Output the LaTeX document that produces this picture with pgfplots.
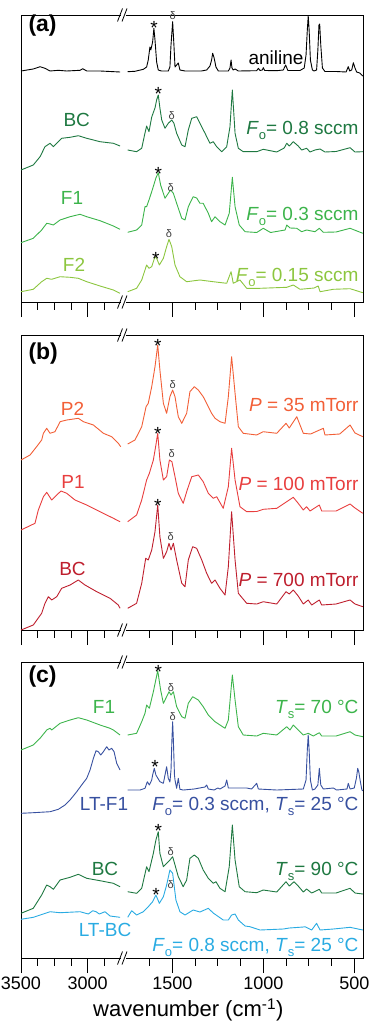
\documentclass[border=0pt]{standalone}
\usepackage{fontspec}
\setmainfont{Liberation Sans}
\usepackage{pgfplots}
\pgfplotsset{compat=1.18}
\definecolor{cAn}{RGB}{0,0,0}
\definecolor{cBC}{RGB}{30,120,65}
\definecolor{cF1}{RGB}{60,180,75}
\definecolor{cF2}{RGB}{140,198,63}
\definecolor{cP2}{RGB}{242,95,55}
\definecolor{cP1}{RGB}{232,62,62}
\definecolor{cBCr}{RGB}{190,30,45}
\definecolor{cLTF}{RGB}{55,80,160}
\definecolor{cLTB}{RGB}{41,171,226}
\newcommand{\lab}{\fontsize{19}{22}\selectfont}
\newcommand{\sub}[1]{\raisebox{-5pt}{\fontsize{13}{13}\selectfont #1}}
\newcommand{\ask}{\fontsize{19}{19}\selectfont *}
\newcommand{\dl}{\fontsize{11}{11}\selectfont δ}
\tikzset{as/.style={yshift=-4.5pt}}
\pgfplotsset{
  brk/.style={
    scale only axis, width=342pt,
    x coord trafo/.code={\pgfmathparse{##1>2200 ? 21+(3500-##1)*0.133333 : 172.3+(1500-##1)*0.182}},
    xmin=3500, xmax=452,
    y filter/.expression={-y},
    axis line style={line width=0.9pt},
    xtick={3500,3000,1500,1000,500},
    minor xtick={3375,3250,3125,2875,1625,1375,1250,1125,875,750,625},
    xtick pos=bottom, ytick=\empty,
    tick align=outside,
    major tick length=15pt, minor tick length=7.5pt,
    every tick/.style={black, line width=0.9pt},
    xticklabels={},
    unbounded coords=jump,
    every axis plot/.append style={line width=0.9pt, mark=none, line join=round},
    /pgf/number format/assume math mode=true,
    xticklabel style={font=\fontsize{18}{18}\selectfont},
  }
}
\begin{document}
\begin{tikzpicture}[x=1pt,y=1pt]
\useasboundingbox (0,0) rectangle (371,-1024);
% ---------------- panel (a)
\begin{axis}[brk, at={(21,-15)}, anchor=north west, height=287pt, ymin=-302, ymax=-15]
\addplot[cAn] coordinates {(3500,71)(3408,69)(3357,66.7)(3320,68.3)(3282,71)(3220,70.3)(3157,71)(3057,70.3)(3037,68.7)(3007,71)(2907,71)(2757,72)
(2200,nan)
(1745,71.7)(1705,71.3)(1659,69.3)(1641,67)(1632,60)(1623,47)(1618,50)(1608,42)(1601,28.3)(1595,40)(1586,62)(1577,70)(1560,71)(1522,71)(1513,67)(1507,45)(1498,21.7)(1491,45)(1485,67)(1476,65)(1467,63)(1458,70)(1430,71)(1340,71)(1311,70)(1293,66)(1284,60)(1278,53.3)(1270,58)(1260,67)(1247,71)(1192,71)(1183,68)(1177,60)(1172,68)(1165,70)(1155,69)(1137,71)(1036,70.7)(1027,68.3)(1018,70.5)(1005,70)(1000,67.7)(992,70.5)(926,70.7)(890,70)(877,65)(865,70.5)(798,70.5)(775,68)(765,55)(758,30)(753,16)(748,30)(741,60)(730,70)(721,71)(707,70)(700,50)(694,25)(690,24)(684,45)(675,68)(661,71.5)(600,71.5)(545,72)(533,66.7)(525,71)(514,70)(505,62.7)(496,68)(487,72)(470,73)(453,76)};
\addplot[cBC] coordinates {(3500,170)(3408,165)(3357,156.7)(3320,146.7)(3282,143.3)(3257,146.7)(3220,141.7)(3195,138.3)(3132,137.3)(3070,135.7)(3007,138.3)(2907,141.7)(2807,143.3)(2757,146)
(2200,nan)
(1745,150)(1696,151.7)(1668,148.3)(1650,133)(1641,126)(1628,131.7)(1613,117)(1595,108)(1586,100)(1577,95)(1568,108)(1558,120)(1540,128.3)(1522,123.3)(1503,120)(1491,123.3)(1476,133.3)(1448,145)(1430,146.7)(1412,130)(1393,118.3)(1366,116.7)(1348,123.3)(1320,133.3)(1293,143.3)(1275,141.7)(1256,146.7)(1228,151.7)(1201,146.7)(1183,126.7)(1170,90)(1155,133.3)(1137,148.3)(1110,151.7)(1036,151.7)(1000,149.3)(926,152)(885,148)(871,143.3)(857,146)(835,141.7)(808,146)(789,150)(762,148.3)(743,152)(716,150)(688,149)(661,152)(600,151.5)(523,147.7)(496,152)(453,151.7)};
\addplot[cF1] coordinates {(3500,242.7)(3408,238.3)(3345,230)(3307,223.3)(3282,224)(3257,225)(3207,220)(3132,216.7)(3057,214.3)(3007,216.7)(2907,220.7)(2807,226)(2757,229.3)
(2200,nan)
(1745,232.3)(1696,230)(1668,225)(1650,206.7)(1641,206.7)(1628,200)(1610,190)(1590,178)(1577,172.7)(1564,185)(1558,188.3)(1540,198.3)(1522,193.3)(1509,190)(1494,193.3)(1476,203.3)(1448,218.3)(1430,220)(1412,206.7)(1385,196.7)(1366,198)(1348,203.3)(1330,203.3)(1302,213.3)(1284,221.7)(1265,216.7)(1238,221.7)(1210,225)(1187,213.3)(1170,177.3)(1155,206.7)(1132,225)(1100,231.7)(1036,232.5)(1000,228.3)(960,232.5)(880,230)(871,225)(853,228)(816,228.3)(789,231.7)(762,230)(716,231.7)(692,228.3)(670,232.3)(600,232)(523,228.3)(453,233.3)};
\addplot[cF2] coordinates {(3500,291.7)(3408,289.3)(3345,281.7)(3307,278.3)(3270,279.3)(3207,276.7)(3132,277.3)(3070,278.3)(3007,281.7)(2907,286)(2807,290)(2757,293.3)
(2200,nan)
(1745,291.7)(1696,288.3)(1668,280)(1641,265)(1628,268.3)(1613,266.7)(1595,256.7)(1586,258.3)(1571,265)(1549,258.3)(1531,246.7)(1518,239.3)(1503,246.7)(1485,265)(1458,276.7)(1421,281.7)(1348,280)(1275,281.7)(1201,283.3)(1177,271.7)(1165,283.3)(1128,280)(1091,288.3)(1018,288.3)(871,287.3)(835,285)(798,289.3)(720,288)(698,286)(688,291.7)(615,289.3)(523,288.7)(453,292.7)};
\end{axis}
% ---------------- panel (b)
\begin{axis}[brk, at={(21,-335)}, anchor=north west, height=295pt, ymin=-630, ymax=-335]
\addplot[cP2] coordinates {(3500,460)(3432,455)(3383,446.7)(3345,440)(3332,433.3)(3307,428.3)(3282,433.3)(3245,431.7)(3207,421.7)(3157,420)(3070,418.3)(3032,421.7)(2957,425)(2882,433.3)(2820,436.7)(2770,443.3)(2752,446.7)
(2200,nan)
(1745,444)(1705,440)(1668,426.7)(1644,406.7)(1632,403.3)(1613,386.7)(1595,366.7)(1580,345)(1568,370)(1549,403.3)(1531,413.3)(1513,396.7)(1498,390)(1485,396.7)(1467,416.7)(1448,423.3)(1421,413.3)(1403,391.7)(1379,386.7)(1357,390)(1330,396.7)(1302,406.7)(1284,413.3)(1265,418.3)(1238,421.7)(1210,423.3)(1192,396.7)(1174,356.7)(1155,393.3)(1137,426.7)(1110,433.3)(1036,435)(1000,431.7)(926,433.3)(875,423.3)(857,428)(816,416.7)(798,425)(780,433.3)(740,434)(670,428.3)(661,435)(580,434)(523,425)(496,433)(453,436.7)};
\addplot[cP1] coordinates {(3500,530)(3395,523.3)(3370,510)(3332,496.7)(3307,492.3)(3270,500)(3232,495)(3200,491)(3157,493.3)(3095,500)(3007,505)(2907,511.7)(2807,518.3)(2757,521.7)
(2200,nan)
(1745,521.7)(1696,515)(1668,500)(1641,480)(1626,473.3)(1604,460)(1590,445)(1580,433.3)(1568,460)(1549,480)(1531,476.7)(1516,460)(1502,461.7)(1485,476.7)(1467,493.3)(1440,503.3)(1418,490)(1393,476.7)(1357,475)(1330,481.7)(1302,493.3)(1275,498.3)(1256,496.7)(1220,508.3)(1192,486.7)(1174,448.3)(1155,480)(1128,506.7)(1091,511.7)(1036,511.5)(1000,509.3)(926,508.3)(871,501.7)(835,497.3)(808,503.3)(780,510)(762,506.7)(743,511)(692,505)(679,511)(600,511)(523,504)(496,508)(453,513.3)};
\addplot[cBCr] coordinates {(3500,630)(3408,625)(3345,613.3)(3320,603.3)(3295,596.7)(3270,600)(3232,596.7)(3195,588.3)(3132,585)(3070,580)(3020,585)(2932,591.7)(2832,598.3)(2770,605)(2757,608.3)
(2200,nan)
(1745,608.3)(1696,603.3)(1668,583.3)(1646,558.3)(1632,560)(1613,550)(1595,531.7)(1580,505)(1568,536.7)(1549,558.3)(1531,551.7)(1518,543.3)(1507,550)(1494,543.3)(1476,560)(1448,583.3)(1430,586.7)(1412,560)(1388,546.7)(1366,548.3)(1338,560)(1311,573.3)(1284,583.3)(1265,580)(1238,588.3)(1210,595)(1192,566.7)(1174,511.7)(1155,560)(1137,593.3)(1091,603.3)(1036,604)(1000,601.7)(926,604)(875,591.7)(857,594)(835,590)(808,596)(780,604)(753,600)(734,605)(692,600)(679,605)(600,604)(523,600)(496,604)(453,606.7)};
\end{axis}
% ---------------- panel (c)
\begin{axis}[brk, at={(21,-662)}, anchor=north west, height=296pt, ymin=-958, ymax=-662,
  xticklabels={3500,3000,1500,1000,500}]
\addplot[cF1] coordinates {(3500,750)(3408,745)(3357,738.3)(3307,730)(3282,728.3)(3270,730)(3207,723.3)(3132,720)(3070,717.7)(3007,720)(2907,725)(2832,728.3)(2807,730)(2757,735)
(2200,nan)
(1745,735)(1696,733.3)(1668,721.7)(1650,713.3)(1641,705)(1626,708.3)(1604,691.7)(1580,670.7)(1564,690)(1549,703.3)(1531,696.7)(1518,691.7)(1507,695)(1494,691.7)(1476,706.7)(1448,716.7)(1430,718.3)(1412,703.3)(1388,696.7)(1357,700)(1330,706.7)(1302,715)(1275,720)(1265,721.7)(1238,725)(1210,728.3)(1192,720)(1170,675)(1155,700)(1137,726.7)(1110,735)(1036,736)(1000,733.3)(926,735)(871,726.7)(853,730)(835,725)(808,730)(780,735)(753,733.3)(725,736)(692,732.7)(679,736)(600,736)(523,731.7)(496,735)(453,736.7)};
\addplot[cLTF] coordinates {(3500,813.3)(3408,812.7)(3282,811.7)(3220,809.3)(3170,805)(3132,800)(3082,791.7)(3045,785)(3007,778.3)(2982,770)(2957,758.3)(2937,750.7)(2920,751.7)(2902,755)(2882,751.7)(2857,746.7)(2840,750)(2820,748.3)(2802,751.7)(2782,763.3)(2757,770)
(2200,nan)
(1745,790)(1677,790)(1650,788.3)(1637,781.7)(1626,785)(1613,780)(1608,775)(1599,768.3)(1590,775)(1568,781.7)(1549,783.3)(1540,775)(1531,766.7)(1522,778.3)(1513,782)(1507,770)(1502,740)(1498,721.7)(1494,740)(1488,775)(1485,780)(1476,788.3)(1467,778.3)(1458,789.3)(1440,790)(1380,789)(1320,787)(1311,785)(1302,789)(1270,790)(1250,788)(1238,789)(1210,786)(1201,780)(1192,788)(1137,788)(1091,788)(1064,789)(1036,783.3)(1027,789)(926,790)(780,789)(765,780)(758,750)(753,735)(748,750)(741,780)(730,790)(716,789)(700,785)(692,768.3)(684,785)(670,789)(615,788)(597,790)(540,789)(533,783.3)(523,789)(500,788)(488,778)(481,768.3)(475,772)(468,780)(458,790)(453,790.7)};
\addplot[cBC] coordinates {(3500,913.3)(3408,908.3)(3345,895)(3307,885)(3282,886.7)(3257,889.3)(3207,880)(3132,877.3)(3070,874.3)(3007,878.3)(2907,880.7)(2807,883.3)(2757,886.7)
(2200,nan)
(1745,891.7)(1696,893.3)(1668,888.3)(1641,866.7)(1628,871.7)(1604,853.3)(1590,840)(1577,831.7)(1568,853.3)(1549,866.7)(1531,863.3)(1513,860)(1498,856.7)(1485,865)(1467,876.7)(1440,886.7)(1421,880)(1403,858.3)(1379,855)(1357,858.3)(1330,870)(1302,878.3)(1275,883.3)(1260,881.7)(1238,888.3)(1210,891.7)(1187,866.7)(1170,825)(1155,860)(1132,886.7)(1100,891.7)(1036,892.7)(1000,890)(926,892)(875,881.7)(857,886)(831,881.7)(808,886)(780,892)(762,889)(734,893)(692,889.3)(679,893)(600,893)(523,888.3)(496,893)(453,894)};
\addplot[cLTB] coordinates {(3500,919.3)(3408,917.3)(3282,911.7)(3207,912.7)(3057,911.7)(2995,914)(2962,910.7)(2937,911.7)(2912,914)(2870,911.7)(2832,916)(2757,917.3)
(2200,nan)
(1745,917.3)(1723,910.7)(1696,915)(1659,911.7)(1632,906.7)(1608,901.7)(1590,895)(1571,903.3)(1549,896.7)(1531,885)(1513,870)(1498,873.3)(1480,900)(1458,911.7)(1430,915)(1385,910)(1348,912)(1302,908.3)(1275,913)(1220,920)(1192,920)(1174,915)(1155,914)(1137,920)(1100,926)(1073,926.7)(1018,930)(890,929)(857,928)(780,927)(771,926.7)(734,930)(707,923.3)(688,930)(615,929)(523,927.3)(453,930)};
\end{axis}
% ---------------- axis breaks
\foreach \yy in {15,302,335,630,662,958}{
  \fill[white] (120.5,-\yy+4) rectangle (125.5,-\yy-4);
  \draw[line width=0.8pt] (117.5,-\yy-6.5) -- (122.5,-\yy+6.5);
  \draw[line width=0.8pt] (122,-\yy-6.5) -- (127,-\yy+6.5);
}
% ---------------- panel letters
\node[anchor=west, font=\fontsize{23}{23}\selectfont\bfseries] at (25,-26) {(a)};
\node[anchor=west, font=\fontsize{23}{23}\selectfont\bfseries] at (25,-354) {(b)};
\node[anchor=west, font=\fontsize{23}{23}\selectfont\bfseries] at (25,-677) {(c)};
% ---------------- labels (a)
\node[anchor=base, cAn] at (276,-65) {\lab aniline};
\node[anchor=base, cBC] at (76.7,-126.7) {\lab BC};
\node[anchor=base east, cBC] at (362,-135) {\lab \textit{F}\sub{o}= 0.8 sccm};
\node[anchor=base, cF1] at (72,-205) {\lab F1};
\node[anchor=base east, cF1] at (362,-220.7) {\lab \textit{F}\sub{o}= 0.3 sccm};
\node[anchor=base, cF2] at (74,-271.7) {\lab F2};
\node[anchor=base east, cF2] at (362,-281.7) {\lab \textit{F}\sub{o}= 0.15 sccm};
\node[as] at (154,-23) {\ask};
\node[black!75] at (172.7,-15.5) {\dl};
\node[as] at (158.3,-89) {\ask};
\node[black!75] at (171.7,-115.5) {\dl};
\node[as] at (158.3,-169) {\ask};
\node[black!75] at (170.7,-187.5) {\dl};
\node[as] at (155.7,-254) {\ask};
\node[black!75] at (169,-234) {\dl};
% ---------------- labels (b)
\node[anchor=base, cP2] at (72.5,-415) {\lab P2};
\node[anchor=base east, cP2] at (362,-411.7) {\lab \textit{P} = 35 mTorr};
\node[anchor=base, cP1] at (73,-488.3) {\lab P1};
\node[anchor=base east, cP1] at (362,-490.7) {\lab \textit{P} = 100 mTorr};
\node[anchor=base, cBCr] at (72.5,-575) {\lab BC};
\node[anchor=base east, cBCr] at (362,-586.7) {\lab \textit{P} = 700 mTorr};
\node[as] at (157.7,-341) {\ask};
\node[black!75] at (172.7,-385) {\dl};
\node[as] at (157.7,-429) {\ask};
\node[black!75] at (171.7,-453.7) {\dl};
\node[as] at (157.7,-501) {\ask};
\node[black!75] at (170.7,-536.7) {\dl};
% ---------------- labels (c)
\node[anchor=base, cF1] at (104,-713.3) {\lab F1};
\node[anchor=base east, cF1] at (362,-713.3) {\lab \textit{T}\sub{s}= 70 °C};
\node[anchor=base, cLTF] at (104,-810) {\lab LT-F1};
\node[anchor=base east, cLTF] at (362,-810) {\lab \textit{F}\sub{o}= 0.3 sccm, \textit{T}\sub{s}= 25 °C};
\node[anchor=base, cBC] at (105,-875.7) {\lab BC};
\node[anchor=base east, cBC] at (362,-875) {\lab \textit{T}\sub{s}= 90 °C};
\node[anchor=base, cLTB] at (105,-936.7) {\lab LT-BC};
\node[anchor=base east, cLTB] at (362,-951.7) {\lab \textit{F}\sub{o}= 0.8 sccm, \textit{T}\sub{s}= 25 °C};
\node[as] at (158.3,-667) {\ask};
\node[black!75] at (171,-687.5) {\dl};
\node[as] at (155,-762) {\ask};
\node[black!75] at (172.7,-716.3) {\dl};
\node[as] at (158.3,-826) {\ask};
\node[black!75] at (170.7,-852) {\dl};
\node[as] at (156,-890) {\ask};
\node[black!75] at (170.7,-885) {\dl};
% ---------------- x label
\node[anchor=base, font=\fontsize{22}{22}\selectfont] at (188.3,-1016.7) {wavenumber (cm\textsuperscript{-1})};
\end{tikzpicture}
\end{document}
